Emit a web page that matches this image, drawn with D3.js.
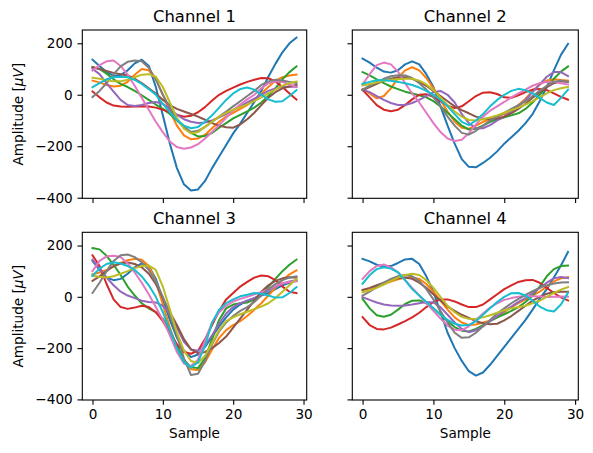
<!DOCTYPE html>
<html>
<head>
<meta charset="utf-8">
<script src="https://cdn.jsdelivr.net/npm/d3@7"></script>
<style>
  body { margin: 0; background: #fff; }
  svg { font-family: "DejaVu Sans", sans-serif; }
</style>
</head>
<body>
<svg id="fig" width="593" height="453"></svg>
<script>
// one row per trace, 30 samples each, in µV
const ch1 = [
  [136,112,88,74,76,95,122,136,112,30,-80,-190,-285,-348,-372,-368,-335,-285,-240,-195,-150,-112,-70,-28,15,70,120,165,200,222],
  [55,48,38,32,35,50,78,100,95,60,0,-65,-120,-158,-173,-170,-155,-130,-105,-85,-70,-55,-40,-20,5,30,55,68,75,78],
  [108,100,82,60,42,30,15,-2,-20,-38,-55,-75,-100,-125,-148,-162,-160,-148,-128,-110,-92,-78,-65,-50,-30,-5,25,60,88,110],
  [13,-10,-30,-42,-46,-47,-46,-45,-46,-50,-58,-68,-78,-85,-82,-68,-48,-22,0,15,28,40,50,58,65,64,52,30,5,-19],
  [101,80,45,12,-20,-40,-44,-40,-32,-28,-35,-55,-78,-95,-105,-110,-108,-100,-88,-75,-60,-45,-30,-15,0,15,25,30,32,30],
  [107,100,92,85,80,75,62,45,25,5,-20,-40,-55,-65,-75,-85,-97,-110,-120,-126,-128,-115,-95,-70,-40,-12,10,25,32,38],
  [94,115,130,133,112,78,35,-12,-58,-105,-145,-182,-203,-210,-205,-192,-170,-145,-118,-90,-60,-38,-18,0,25,45,52,50,40,30],
  [-9,15,45,80,110,128,133,130,105,60,0,-50,-95,-125,-145,-140,-125,-105,-85,-65,-45,-25,-5,15,38,52,58,55,50,45],
  [66,62,56,52,52,58,68,78,80,70,30,-30,-90,-132,-150,-145,-125,-105,-85,-70,-58,-48,-38,-25,-10,5,20,35,45,52],
  [30,45,60,68,70,68,58,42,22,0,-35,-68,-98,-120,-130,-125,-105,-80,-50,-20,5,22,28,20,0,-18,-27,-25,-5,18]
];
const ch2 = [
  [140,125,105,90,86,95,118,130,118,80,30,-45,-120,-190,-250,-280,-282,-265,-245,-220,-190,-165,-140,-110,-75,-25,30,95,155,198],
  [22,5,-14,-5,25,65,95,107,95,65,25,-20,-65,-105,-128,-132,-120,-105,-95,-85,-75,-60,-40,-15,15,40,55,60,57,55],
  [88,75,60,45,32,22,12,5,-2,-10,-25,-45,-70,-95,-120,-135,-132,-120,-105,-95,-88,-80,-72,-55,-30,0,30,62,90,110],
  [19,-10,-40,-58,-64,-58,-40,-18,0,2,-8,-25,-42,-52,-45,-25,-5,8,10,3,-10,-12,-2,10,20,22,18,5,-8,-19],
  [20,10,-5,-20,-32,-40,-40,-32,-20,-5,10,15,0,-30,-75,-110,-130,-130,-118,-100,-85,-65,-45,-20,10,40,70,88,88,72],
  [18,30,42,55,62,68,68,62,50,35,15,-5,-25,-45,-60,-72,-85,-92,-95,-92,-85,-72,-55,-35,-12,10,30,45,52,50],
  [40,80,115,125,118,90,45,5,-30,-70,-110,-145,-170,-180,-175,-150,-115,-85,-62,-45,-28,-10,5,20,35,45,50,50,45,40],
  [20,35,50,62,72,76,75,65,45,20,-10,-45,-85,-120,-148,-155,-140,-120,-100,-85,-70,-55,-40,-25,-5,15,35,50,55,50],
  [36,42,48,54,58,60,62,62,55,40,18,-10,-40,-65,-85,-98,-100,-95,-88,-80,-70,-60,-50,-38,-25,-10,5,18,25,30],
  [43,50,56,56,54,50,45,38,28,15,0,-20,-45,-75,-105,-118,-100,-75,-45,-20,0,15,23,18,5,-12,-30,-40,-12,20]
];
const ch3 = [
  [140,105,75,65,70,90,115,130,120,70,-10,-90,-160,-210,-235,-225,-195,-155,-115,-80,-50,-30,-15,-5,5,15,30,45,55,63],
  [88,95,105,118,132,143,148,145,120,60,-30,-120,-200,-255,-282,-285,-255,-205,-160,-130,-110,-95,-75,-50,-25,5,35,65,88,103],
  [190,185,160,125,85,40,5,-25,-45,-60,-85,-130,-190,-245,-275,-278,-240,-165,-90,-45,-30,-25,-22,-10,12,40,70,100,125,145],
  [162,120,50,-10,-40,-47,-42,-35,-40,-60,-95,-140,-185,-215,-222,-210,-165,-110,-55,-10,15,40,58,75,83,80,65,40,20,15],
  [145,110,75,45,20,5,-5,-15,-20,-22,-35,-65,-120,-175,-205,-210,-190,-150,-105,-65,-40,-25,-15,-5,10,25,40,52,60,65],
  [62,80,100,120,130,134,128,115,90,50,-5,-60,-110,-165,-205,-220,-215,-200,-180,-155,-120,-85,-50,-15,20,45,62,72,76,75],
  [100,140,158,160,155,130,95,55,10,-40,-90,-150,-215,-260,-270,-245,-170,-100,-60,-35,-18,-8,0,10,18,30,42,52,58,60],
  [15,55,100,140,162,165,155,135,105,60,0,-70,-150,-240,-305,-300,-250,-185,-135,-100,-75,-55,-40,-20,5,30,50,65,75,80],
  [82,78,75,80,90,100,112,120,122,105,40,-50,-140,-210,-250,-258,-230,-180,-130,-95,-80,-68,-58,-48,-38,-25,-5,20,45,70],
  [82,110,128,135,130,120,105,80,45,0,-60,-130,-200,-255,-275,-255,-190,-100,-50,-25,-10,2,8,15,12,5,-3,-2,15,38]
];
const ch4 = [
  [148,138,125,118,120,132,146,148,128,80,20,-60,-140,-200,-250,-290,-307,-295,-265,-230,-195,-160,-125,-90,-50,-8,30,75,122,175],
  [27,32,40,50,60,68,74,76,70,50,20,-15,-50,-80,-100,-110,-108,-100,-93,-80,-60,-40,-25,-10,5,20,40,60,72,77],
  [-8,-45,-72,-78,-70,-50,-28,-15,-14,-25,-45,-70,-95,-118,-132,-135,-125,-110,-95,-80,-68,-55,-40,-20,5,40,80,108,120,122],
  [-79,-110,-125,-127,-120,-108,-95,-80,-62,-40,-20,-10,-10,-18,-30,-40,-40,-30,-10,10,30,45,58,65,66,55,35,15,-2,-14],
  [-1,-12,-22,-30,-34,-35,-34,-30,-25,-20,-22,-40,-70,-100,-125,-138,-130,-115,-95,-75,-55,-38,-20,-5,15,35,55,72,77,73],
  [27,35,45,55,65,72,75,70,55,35,10,-15,-38,-55,-70,-82,-95,-103,-107,-105,-92,-75,-55,-35,-15,0,12,18,20,20],
  [70,100,120,126,115,96,65,35,5,-25,-55,-85,-112,-128,-130,-115,-90,-65,-42,-25,-12,-5,0,3,2,1,-1,0,1,0],
  [5,20,38,55,70,80,85,80,62,30,-10,-55,-100,-140,-160,-158,-140,-115,-90,-65,-45,-25,-8,8,22,35,45,52,56,57],
  [18,25,35,48,62,75,85,90,85,65,35,0,-35,-60,-78,-86,-85,-80,-72,-62,-52,-45,-40,-35,-25,-15,0,15,28,38],
  [51,85,108,115,110,95,65,30,5,-20,-45,-70,-90,-105,-112,-110,-95,-70,-45,-20,0,14,15,5,-15,-38,-52,-57,-30,16]
];
const channels = [ch1, ch2, ch3, ch4];
const titles = ["Channel 1", "Channel 2", "Channel 3", "Channel 4"];
const xTicks = [0, 10, 20, 30];
const yTicks = [-400, -200, 0, 200];

const colors = ["#1f77b4","#ff7f0e","#2ca02c","#d62728","#9467bd",
                "#8c564b","#e377c2","#7f7f7f","#bcbd22","#17becf"];

const cols = [[82.3, 306.7], [352.3, 578.3]];
const rows = [[30, 198.3], [232.3, 400]];

const svg = d3.select("#fig");
const tickFont = 13.6;

channels.forEach((data, k) => {
    const r = Math.floor(k / 2), c = k % 2;
    const x = d3.scaleLinear().domain([-1.45, 30.45]).range(cols[c]);
    const y = d3.scaleLinear().domain([-402.3, 251.6]).range([rows[r][1], rows[r][0]]);
    const g = svg.append("g");

    const line = d3.line()
        .x((d, i) => x(i))
        .y(d => y(d));

    g.append("g")
        .selectAll("path")
        .data(data)
        .join("path")
        .attr("fill", "none")
        .attr("stroke", (d, i) => colors[i])
        .attr("stroke-width", 2)
        .attr("stroke-linejoin", "round")
        .attr("stroke-linecap", "square")
        .attr("d", line);

    const xAxis = d3.axisBottom(x).tickValues(xTicks).tickSize(4.8).tickPadding(4.8)
        .tickFormat(r === 1 ? d3.format("d") : () => "");
    const yAxis = d3.axisLeft(y).tickValues(yTicks).tickSize(4.8).tickPadding(4.8)
        .tickFormat(c === 0 ? d3.format("d") : () => "");

    const gx = g.append("g")
        .attr("transform", `translate(0,${rows[r][1]})`)
        .call(xAxis);
    const gy = g.append("g")
        .attr("transform", `translate(${cols[c][0]},0)`)
        .call(yAxis);
    [gx, gy].forEach(a => {
        a.select(".domain").remove();
        a.selectAll(".tick line").attr("stroke", "#000").attr("stroke-width", 1.1);
        a.selectAll(".tick text")
            .attr("fill", "#000")
            .style("font-size", tickFont + "px")
            .style("font-family", "DejaVu Sans");
    });

    // frame
    g.append("rect")
        .attr("x", cols[c][0]).attr("y", rows[r][0])
        .attr("width", cols[c][1] - cols[c][0])
        .attr("height", rows[r][1] - rows[r][0])
        .attr("fill", "none")
        .attr("stroke", "#000")
        .attr("stroke-width", 1.1);

    g.append("text")
        .attr("x", (cols[c][0] + cols[c][1]) / 2)
        .attr("y", rows[r][0] - 8)
        .attr("text-anchor", "middle")
        .style("font-size", "16.4px")
        .text(titles[k]);

    if (r === 1) {
        g.append("text")
            .attr("x", (cols[c][0] + cols[c][1]) / 2)
            .attr("y", 438)
            .attr("text-anchor", "middle")
            .style("font-size", tickFont + "px")
            .text("Sample");
    }

    if (c === 0) {
        const yl = g.append("text")
            .attr("transform", `translate(22.5,${(rows[r][0] + rows[r][1]) / 2}) rotate(-90)`)
            .attr("text-anchor", "middle")
            .style("font-size", tickFont + "px");
        yl.append("tspan").text("Amplitude [");
        yl.append("tspan").attr("font-style", "italic").text("\u03bcV");
        yl.append("tspan").text("]");
    }
});
</script>
</body>
</html>
